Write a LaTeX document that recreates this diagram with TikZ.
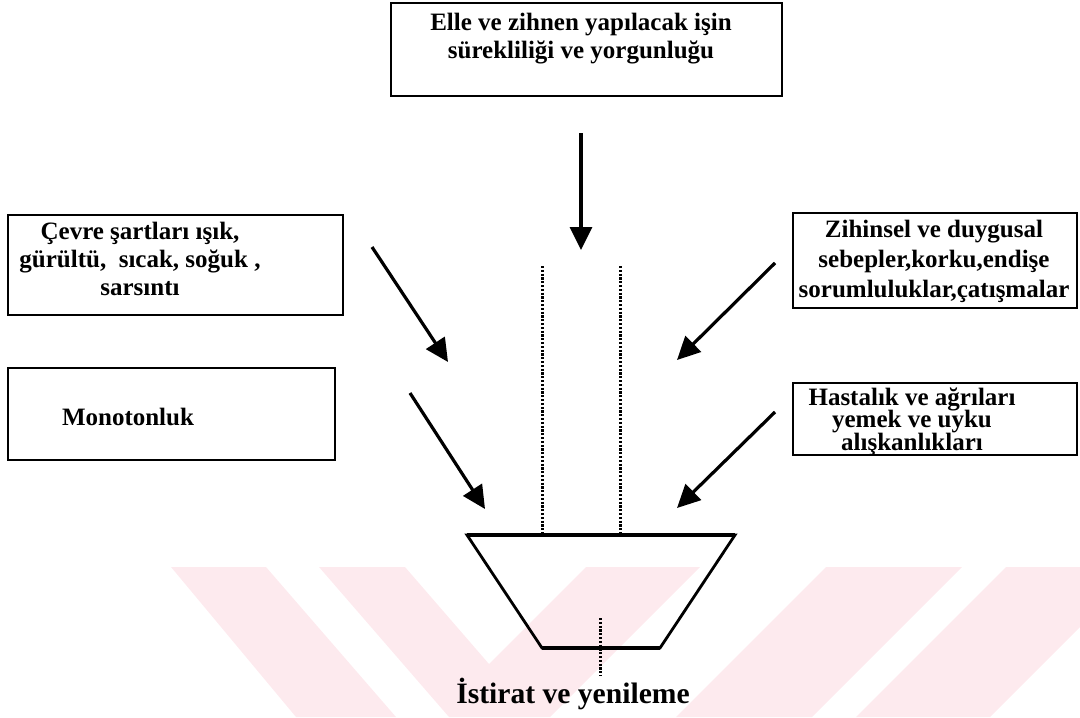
\documentclass[tikz,border=0pt]{standalone}
\usepackage{fontspec}
\setmainfont{Liberation Serif}
\usepackage{tikz}
\usetikzlibrary{arrows.meta,fit}
\definecolor{wmpink}{RGB}{253,234,238}

\begin{document}
\begin{tikzpicture}[x=0.5pt, y=-0.5pt, every node/.style={font=\fontsize{12.5pt}{13.5pt}\selectfont\bfseries}, box/.style={draw,line width=1.2pt,inner sep=0pt}, txt/.style={align=center,inner sep=0pt,anchor=north}, arr/.style={-{Triangle[length=11.5pt,width=11pt]},line width=1.6pt}, dots/.style={line width=1.5pt,dash pattern=on 1.1pt off 0.8pt}]
\useasboundingbox (0,0) rectangle (1080,717);
% background stripes
\fill[wmpink] (171,567) -- (266,567) -- (396,717) -- (296,717) -- cycle;
\fill[wmpink] (319,567) -- (405,567) -- (489,664) -- (586,567) -- (700,567) -- (550,717) -- (449,717) -- cycle;
\fill[wmpink] (826,567) -- (962,567) -- (812,717) -- (676,717) -- cycle;
\fill[wmpink] (1006,567) -- (1080,567) -- (1080,627) -- (990,717) -- (856,717) -- cycle;
% boxes
\node[box,fit={(391,3) (782,96)}] (work) {};
\node[txt,font=\fontsize{12.5pt}{14pt}\selectfont\bfseries] (worktext) at (581,13) {Elle ve zihnen yapılacak işin\\sürekliliği ve yorgunluğu};
\node[box,fit={(8,215) (343,315)}] (env) {};
\node[txt,font=\fontsize{12.5pt}{14pt}\selectfont\bfseries] (envtext) at (140,222) {Çevre şartları ışık,\\gürültü,~ sıcak, soğuk ,\\sarsıntı};
\node[box,fit={(8,368) (335,460)}] (mono) {};
\node[anchor=base,inner sep=0pt] (monotext) at (128,425) {Monotonluk};
\node[box,fit={(793,213) (1077,308)}] (mind) {};
\node[txt,font=\fontsize{12.5pt}{15pt}\selectfont\bfseries] (mindtext) at (934,220) {Zihinsel ve duygusal\\sebepler,korku,endişe\\sorumluluklar,çatışmalar};
\node[box,fit={(793,383) (1077,455)}] (ill) {};
\node[txt,font={\fontsize{12.5pt}{11.4pt}\selectfont\bfseries\lineskiplimit-20pt\relax}] (illtext) at (912,387) {Hastalık ve ağrıları\\yemek ve uyku\\alışkanlıkları};
% funnel
\coordinate (ftl) at (467,535); \coordinate (ftr) at (735,535);
\coordinate (fbr) at (660,648); \coordinate (fbl) at (542,648);
\draw[line width=1.4pt] (ftl) -- (ftr) -- (fbr) -- (fbl) -- cycle;
\draw[line width=2pt] (ftl) -- (ftr); \draw[line width=2pt] (fbl) -- (fbr);
\coordinate (dl) at (542,266); \coordinate (dr) at (620,266);
\draw[dots] (dl) -- (dl |- ftl); \draw[dots] (dr) -- (dr |- ftl);
\coordinate (dc) at (600,618); \draw[dots] (dc) -- (600,676);
\node[anchor=base,inner sep=0pt,font=\fontsize{14.8pt}{16pt}\selectfont\bfseries] (rest) at (573,703) {İstirat ve yenileme};
% arrows
\coordinate (a1) at (581,133); \coordinate (t1) at (581,250);
\coordinate (a2) at (372,247); \coordinate (t2) at (448,362);
\coordinate (a3) at (410,393); \coordinate (t3) at (485,509);
\coordinate (a4) at (775,263); \coordinate (t4) at (677,360);
\coordinate (a5) at (775,412); \coordinate (t5) at (677,508);
\draw[arr] (a1) -- (t1);\draw[arr] (a2) -- (t2);\draw[arr] (a3) -- (t3);\draw[arr] (a4) -- (t4);\draw[arr] (a5) -- (t5);
\end{tikzpicture}
\end{document}
